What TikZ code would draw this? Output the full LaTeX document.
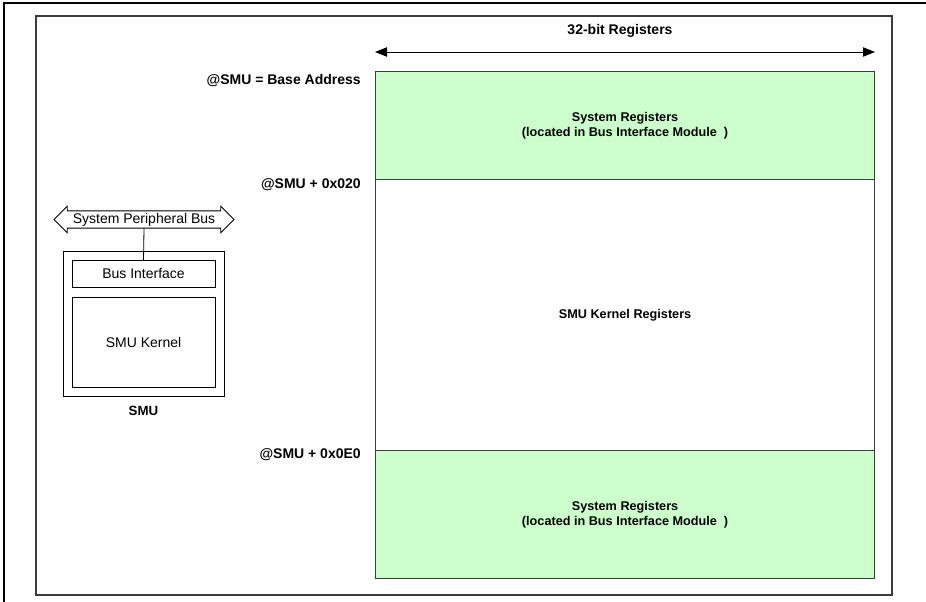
\documentclass[tikz,border=0pt]{standalone}
\usepackage{fontspec}
\setmainfont{Liberation Sans}
\usepackage{tikz}
\usetikzlibrary{shapes.arrows, arrows.meta, positioning}
\definecolor{regreen}{RGB}{204,255,204}
\definecolor{framegray}{RGB}{60,60,60}
\tikzset{
    regbox/.style={rectangle, draw=framegray, line width=0.9pt, inner sep=0pt,
                   anchor=north west, align=center,
                   font=\fontsize{9.5}{11.5}\selectfont\bfseries},
    sysreg/.style={regbox, fill=regreen},
    addrlbl/.style={anchor=east, inner sep=0pt, font=\fontsize{10.5}{12}\selectfont\bfseries},
    blkbox/.style={rectangle, draw=black, line width=0.6pt, inner sep=0pt,
                   font=\fontsize{10.5}{12}\selectfont},
    arrow/.style={{Triangle[length=9pt,width=7pt]}-{Triangle[length=9pt,width=7pt]}, line width=0.6pt},
}
\begin{document}
\begin{tikzpicture}[x=0.75pt, y=-0.75pt]
    \useasboundingbox (0,0) rectangle (926,602);
    % page frame
    \draw[line width=1pt] (926,3) -- (4,3) -- (4,602);
    \draw[framegray, line width=0.9pt] (36,16) rectangle (892,595);

    % register map
    \node[sysreg, minimum width=374.25pt, minimum height=81pt] (sysTop) at (375,71)
        {System Registers\\(located in Bus Interface Module\ \ )};
    \node[regbox, minimum width=374.25pt, minimum height=203.25pt] (kernRegs) at (375,179)
        {SMU Kernel Registers};
    \node[sysreg, minimum width=374.25pt, minimum height=96pt] (sysBot) at (375,450)
        {System Registers\\(located in Bus Interface Module\ \ )};

    \coordinate (widthL) at (375,52);
    \coordinate (widthR) at (875,52);
    \draw[arrow] (widthL) -- (widthR);
    \node[font=\fontsize{10.5}{12}\selectfont\bfseries] (widthLbl) at (620,31) {32-bit Registers};

    \foreach \y/\lbl/\nm in {81/{@SMU = Base Address}/addrBase, 185/{@SMU + 0x020}/addrKern, 455/{@SMU + 0x0E0}/addrSys} {
        \node[addrlbl] (\nm) at (361,\y) {\lbl};
    }

    % SMU block
    \node[double arrow, draw=black, line width=0.6pt, fill=white,
          minimum height=135pt, minimum width=20pt, inner xsep=0pt, inner ysep=1.2pt,
          double arrow head extend=3.5pt, font=\fontsize{10.5}{12}\selectfont] (bus) at (144,219.5)
        {System Peripheral Bus};
    \node[blkbox, minimum width=120.75pt, minimum height=108.75pt] (smu) at (143.5,324) {};
    \node[blkbox, minimum width=107.25pt, minimum height=20.25pt] (busIf) at (143.5,274) {Bus Interface};
    \node[blkbox, minimum width=107.25pt, minimum height=67.5pt] (kernel) at (143.5,342) {SMU Kernel};
    \draw[line width=0.6pt] (bus.south) -- (busIf.north);
    \node[font=\fontsize{10}{12}\selectfont\bfseries] (smuLbl) at (143.5,411) {SMU};
\end{tikzpicture}
\end{document}
